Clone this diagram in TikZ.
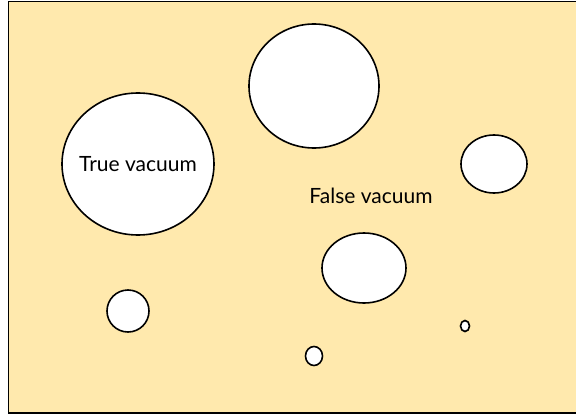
\documentclass[tikz,border=0pt]{standalone}
\usepackage{fontspec}
\usetikzlibrary{shapes.geometric}
\setmainfont{Lato}
\definecolor{bgyellow}{HTML}{FFE9AD}
\begin{document}
\begin{tikzpicture}[x=1pt,y=-1pt,
  bubble/.style={draw=black,fill=white,line width=1.6pt},
  lbl/.style={font=\fontsize{21}{24}\selectfont,inner sep=0pt}]
\useasboundingbox (0,0) rectangle (576,415);
\fill[white] (0,0) rectangle (576,415);
\draw[fill=bgyellow,line width=1.8pt] (610,1.5) -- (8.5,1.5) -- (8.5,413) -- (610,413);
\draw[bubble] (314,86) ellipse [x radius=65, y radius=62];
\node[bubble,ellipse,minimum width=152pt,minimum height=142pt,inner sep=0pt] (tv) at (138,164) {};
\node[lbl] at (tv.center) {True vacuum};
\draw[bubble] (494,164) ellipse [x radius=33, y radius=29];
\draw[bubble] (364,268) ellipse [x radius=42, y radius=35];
\draw[bubble] (128,311) circle [radius=21];
\draw[bubble] (314,356) ellipse [x radius=8.5, y radius=9.5];
\draw[bubble] (465,326) ellipse [x radius=4.5, y radius=5.5];
\node[lbl] (fv) at (371,196) {False vacuum};
\end{tikzpicture}
\end{document}
